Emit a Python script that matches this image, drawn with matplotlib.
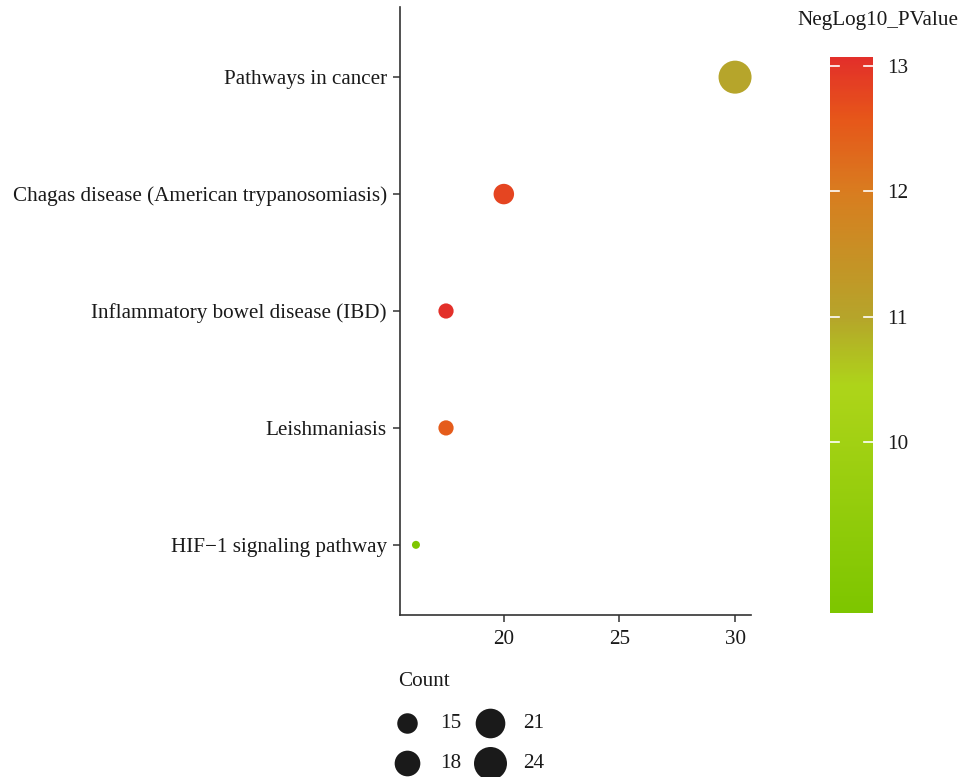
import numpy as np
import matplotlib
matplotlib.use("Agg")
import matplotlib.pyplot as plt
from matplotlib.colors import LinearSegmentedColormap, Normalize

# ---- data ----
pathways = ["Pathways in cancer",
            "Chagas disease (American trypanosomiasis)",
            "Inflammatory bowel disease (IBD)",
            "Leishmaniasis",
            "HIF\u22121 signaling pathway"]
x_values = [30.0, 20.0, 17.5, 17.5, 16.2]
counts = [24, 15, 13, 13, 12]
neglog10_p = [11.0, 12.8, 13.07, 12.5, 8.64]
size_breaks = [15, 18, 21, 24]
x_ticks = [20, 25, 30]
cbar_ticks = [10, 11, 12, 13]

# ---- style ----
plt.rcParams['font.family'] = ['Liberation Serif', 'DejaVu Serif']
FS = 15.2
TXT = "#1a1a1a"
W, H = 963, 777
fig = plt.figure(figsize=(W / 100, H / 100), dpi=100)

def px_axes(x0, y0, x1, y1):
    return fig.add_axes([x0 / W, 1 - y1 / H, (x1 - x0) / W, (y1 - y0) / H])

cvals = [8.64, 10.45, 11.0, 12.0, 12.6, 13.07]
ccols = ["#7EC600", "#AED51A", "#B6A52B", "#D97D20", "#E7561A", "#E3302A"]
lo, hi = min(neglog10_p), max(neglog10_p)
cmap = LinearSegmentedColormap.from_list(
    "pv", [((v - lo) / (hi - lo), c) for v, c in zip(cvals, ccols)])
norm = Normalize(lo, hi)

cmin, cmax = min(counts), max(counts)
def diam_px(c):
    return 8 + 25 * np.sqrt(np.clip((np.asarray(c, float) - cmin) / (cmax - cmin), 0, None))
def s_of(c):
    return (diam_px(c) * 0.72) ** 2

ax = px_axes(400, 7, 751, 615)
ypos = np.arange(len(pathways))[::-1]
ax.scatter(x_values, ypos, s=s_of(counts), c=neglog10_p, cmap=cmap, norm=norm,
           linewidths=0, zorder=3, clip_on=False)
xr = max(x_values) - min(x_values)
ax.set_xlim(min(x_values) - 0.05 * xr, max(x_values) + 0.05 * xr)
ax.set_ylim(-0.6, len(pathways) - 1 + 0.6)
ax.set_yticks(ypos)
ax.set_yticklabels(pathways, fontsize=FS, color=TXT)
ax.set_xticks(x_ticks)
ax.set_xticklabels([str(t) for t in x_ticks], fontsize=FS, color=TXT)
for s in ["top", "right"]:
    ax.spines[s].set_visible(False)
for s in ["left", "bottom"]:
    ax.spines[s].set_color("#333333")
    ax.spines[s].set_linewidth(1.2)
ax.tick_params(length=5, width=1.1, color="#333333")
ax.tick_params(axis="y", pad=4.5)
ax.tick_params(axis="x", pad=6)

# colorbar
cax = px_axes(830, 57, 873, 613)
grad = np.linspace(lo, hi, 300).reshape(-1, 1)
cax.imshow(grad, aspect="auto", cmap=cmap, norm=norm, origin="lower",
           extent=[0, 1, lo, hi])
cax.set_xlim(0, 1)
cax.set_ylim(lo, hi)
cax.set_xticks([])
cax.yaxis.tick_right()
cax.set_yticks(cbar_ticks)
cax.set_yticklabels([str(t) for t in cbar_ticks], fontsize=FS, color=TXT)
cax.tick_params(axis="y", length=0, pad=10)
for s in cax.spines.values():
    s.set_visible(False)
for t in cbar_ticks:
    cax.plot([0, 0.2], [t, t], color="white", lw=1.2)
    cax.plot([0.8, 1], [t, t], color="white", lw=1.2)
fig.text(878 / W, 1 - 20 / H, "NegLog10_PValue", fontsize=FS, ha="center",
         va="center", color=TXT)

# size legend (two columns, filled column-wise)
lax = fig.add_axes([0, 0, 1, 1])
lax.set_xlim(0, W)
lax.set_ylim(H, 0)
lax.axis("off")
fig.text(398 / W, 1 - 681 / H, "Count", fontsize=FS, ha="left", va="center", color=TXT)
col_x = [407, 490]
lab_x = [440, 523]
row_y = [723, 763]
for i, b in enumerate(size_breaks):
    col, row = divmod(i, 2)
    lax.scatter([col_x[col]], [row_y[row]], s=s_of(b), color=TXT, linewidths=0)
    lax.text(lab_x[col], row_y[row], str(b), fontsize=FS, ha="left", va="center", color=TXT)

fig.savefig("out.png", dpi=100)
